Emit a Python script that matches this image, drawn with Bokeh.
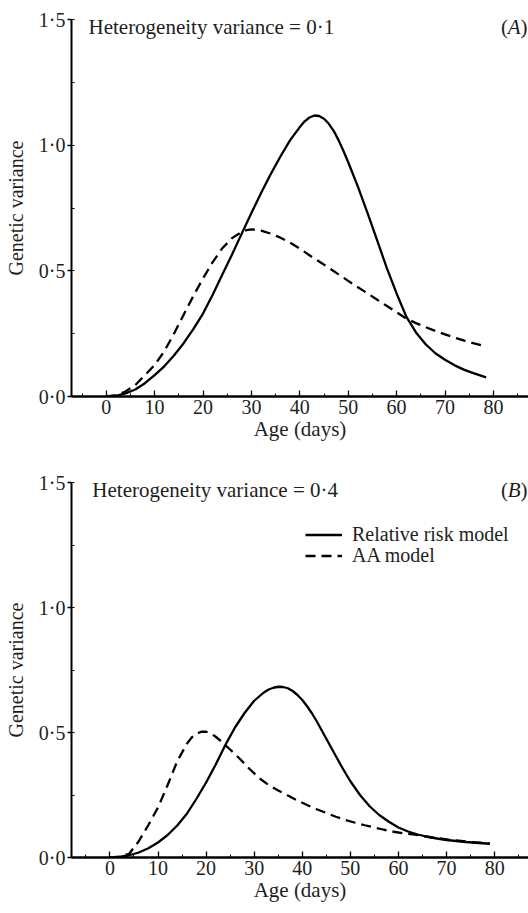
from bokeh.plotting import figure
from bokeh.layouts import column
from bokeh.models import (Range1d, SingleIntervalTicker, CustomJSTickFormatter, Label,
                          Legend, LegendItem)
from bokeh.embed import file_html
from bokeh.resources import INLINE

# ---------------- data ----------------
# Panel A: heterogeneity variance = 0.1
a_rr_age = [0, 2, 4, 6, 8, 10, 12, 14, 16, 18, 20, 22, 24, 26, 28, 30, 32, 34, 36, 38,
            40, 41, 42, 43, 44, 45, 46, 47, 48, 49, 50, 52, 54, 56, 58, 60, 62, 64, 66,
            68, 70, 72, 74, 76, 78.5]
a_rr_var = [0.0, 0.003, 0.012, 0.028, 0.053, 0.085, 0.12, 0.163, 0.212, 0.268, 0.33,
            0.405, 0.485, 0.565, 0.648, 0.73, 0.81, 0.885, 0.955, 1.02, 1.072, 1.095,
            1.11, 1.118, 1.116, 1.105, 1.085, 1.057, 1.02, 0.978, 0.932, 0.835, 0.73,
            0.62, 0.51, 0.41, 0.318, 0.255, 0.208, 0.172, 0.146, 0.124, 0.106, 0.092, 0.076]
a_aa_age = [0, 2, 4, 6, 8, 10, 12, 14, 16, 18, 20, 22, 24, 26, 28, 29, 30, 31, 32, 34, 36,
            38, 40, 42, 44, 46, 48, 50, 52, 54, 56, 58, 60, 62, 64, 66, 68, 70, 72, 74, 76,
            78.5]
a_aa_var = [0.0, 0.004, 0.02, 0.045, 0.085, 0.125, 0.18, 0.25, 0.325, 0.4, 0.47, 0.535,
            0.59, 0.63, 0.655, 0.662, 0.665, 0.664, 0.66, 0.648, 0.632, 0.612, 0.588,
            0.562, 0.537, 0.512, 0.486, 0.46, 0.435, 0.41, 0.385, 0.36, 0.335, 0.31, 0.292,
            0.276, 0.261, 0.247, 0.234, 0.222, 0.211, 0.199]

# Panel B: heterogeneity variance = 0.4
b_rr_age = [0, 2, 4, 6, 8, 10, 12, 14, 16, 18, 20, 22, 24, 26, 28, 30, 32, 33, 34, 35, 36,
            37, 38, 39, 40, 41, 42, 43, 44, 45, 46, 47, 48, 49, 50, 52, 54, 56, 58, 60, 62,
            64, 66, 68, 70, 72, 74, 76, 79]
b_rr_var = [0.0, 0.002, 0.009, 0.02, 0.037, 0.06, 0.09, 0.128, 0.175, 0.235, 0.3, 0.372,
            0.45, 0.52, 0.578, 0.627, 0.66, 0.672, 0.679, 0.683, 0.682, 0.677, 0.666, 0.65,
            0.63, 0.605, 0.577, 0.545, 0.51, 0.475, 0.44, 0.405, 0.37, 0.337, 0.305, 0.25,
            0.205, 0.17, 0.143, 0.12, 0.104, 0.092, 0.083, 0.076, 0.07, 0.066, 0.062,
            0.059, 0.055]
b_aa_age = [0, 2, 4, 6, 8, 10, 12, 14, 16, 17, 18, 19, 20, 21, 22, 23, 25, 27, 29, 31, 33,
            35, 37, 39, 41, 43, 45, 47, 49, 51, 53, 55, 57, 59, 61, 63, 65, 67, 69, 71, 73,
            75, 77, 79]
b_aa_var = [0.0, 0.003, 0.015, 0.065, 0.13, 0.2, 0.29, 0.385, 0.455, 0.48, 0.495, 0.503,
            0.503, 0.496, 0.483, 0.467, 0.432, 0.395, 0.355, 0.318, 0.29, 0.268, 0.248,
            0.228, 0.21, 0.193, 0.178, 0.163, 0.15, 0.139, 0.129, 0.12, 0.111, 0.103,
            0.097, 0.093, 0.086, 0.08, 0.075, 0.07, 0.066, 0.062, 0.059, 0.056]

het_labels = ["Heterogeneity variance = 0\u00b71", "Heterogeneity variance = 0\u00b74"]
panel_letters = ["A", "B"]
series_names = ["Relative risk model", "AA model"]
x_title = "Age (days)"
y_title = "Genetic variance"

# ---------------- style ----------------
FONT = "Liberation Serif"
TXT = "#1e1e1e"
LW = 2.3
DASH = "10 6"
ANN_Y = 1.472


def make_panel(rr_x, rr_y, aa_x, aa_y, het_text, letter, x0, x1, left, height, top,
               bottom, legend):
    p = figure(width=528, height=height, x_range=Range1d(x0, x1), y_range=Range1d(0, 1.5),
               output_backend="svg", toolbar_location=None,
               min_border_left=left, min_border_right=0, min_border_top=top,
               min_border_bottom=bottom)
    p.grid.visible = False
    p.outline_line_color = None
    p.background_fill_color = "white"
    p.border_fill_color = "white"

    r1 = p.line(rr_x, rr_y, line_color="black", line_width=LW)
    r2 = p.line(aa_x, aa_y, line_color="black", line_width=LW, line_dash=DASH)

    xa = p.xaxis[0]
    xa.ticker = SingleIntervalTicker(interval=10, num_minor_ticks=2)
    xa.axis_line_width = 2.4
    xa.axis_line_color = "black"
    xa.major_tick_in = 6
    xa.major_tick_out = 0
    xa.minor_tick_in = 3
    xa.minor_tick_out = 0
    xa.major_tick_line_width = 1.3
    xa.minor_tick_line_width = 1
    xa.major_label_standoff = 3
    xa.major_label_text_font = FONT
    xa.major_label_text_font_size = "20px"
    xa.major_label_text_color = TXT
    xa.axis_label = x_title
    xa.axis_label_text_font = FONT
    xa.axis_label_text_font_size = "21px"
    xa.axis_label_text_font_style = "normal"
    xa.axis_label_text_color = TXT
    xa.axis_label_standoff = 0

    ya = p.yaxis[0]
    ya.ticker = SingleIntervalTicker(interval=0.5, num_minor_ticks=2)
    ya.formatter = CustomJSTickFormatter(code="return tick.toFixed(1).replace('.', '\u00b7');")
    ya.axis_line_width = 2
    ya.axis_line_color = "black"
    ya.major_tick_in = 0
    ya.major_tick_out = 4
    ya.minor_tick_in = 3
    ya.minor_tick_out = 0
    ya.major_tick_line_width = 1.3
    ya.major_label_standoff = 2
    ya.major_label_text_font = FONT
    ya.major_label_text_font_size = "20px"
    ya.major_label_text_color = TXT
    ya.axis_label = y_title
    ya.axis_label_text_font = FONT
    ya.axis_label_text_font_size = "20px"
    ya.axis_label_text_font_style = "normal"
    ya.axis_label_text_color = TXT
    ya.axis_label_standoff = 9

    p.add_layout(Label(x=-3.66, y=ANN_Y, text=het_text, text_baseline="middle",
                       text_font=FONT, text_font_size="21px", text_color=TXT))
    p.add_layout(Label(x=x1, y=ANN_Y, x_offset=-1, text=")", text_align="right",
                       text_baseline="middle", text_font=FONT, text_font_size="21px",
                       text_color=TXT))
    p.add_layout(Label(x=x1, y=ANN_Y, x_offset=-8, text=letter, text_align="right",
                       text_baseline="middle", text_font=FONT, text_font_size="21px",
                       text_font_style="italic", text_color=TXT))
    p.add_layout(Label(x=x1, y=ANN_Y, x_offset=-20.5, text="(", text_align="right",
                       text_baseline="middle", text_font=FONT, text_font_size="21px",
                       text_color=TXT))

    if legend:
        for rend, name, vy in ((r1, series_names[0], 311), (r2, series_names[1], 290)):
            lg = Legend(items=[LegendItem(label=name, renderers=[rend])],
                        location=(234, vy), padding=0, margin=0, spacing=0,
                        glyph_width=37, glyph_height=19, label_height=19, label_standoff=10,
                        label_text_font=FONT, label_text_font_size="20px",
                        label_text_color=TXT, background_fill_alpha=0, border_line_alpha=0)
            p.add_layout(lg, "center")
    return p


p1 = make_panel(a_rr_age, a_rr_var, a_aa_age, a_aa_var, het_labels[0], panel_letters[0],
                x0=-7.17, x1=87.25, left=71, height=448, top=19, bottom=52, legend=False)
p2 = make_panel(b_rr_age, b_rr_var, b_aa_age, b_aa_var, het_labels[1], panel_letters[1],
                x0=-7.99, x1=87.04, left=69, height=464, top=34, bottom=55, legend=True)

p = column(p1, p2, spacing=0)
open("out.html", "w").write(file_html(p, INLINE))
